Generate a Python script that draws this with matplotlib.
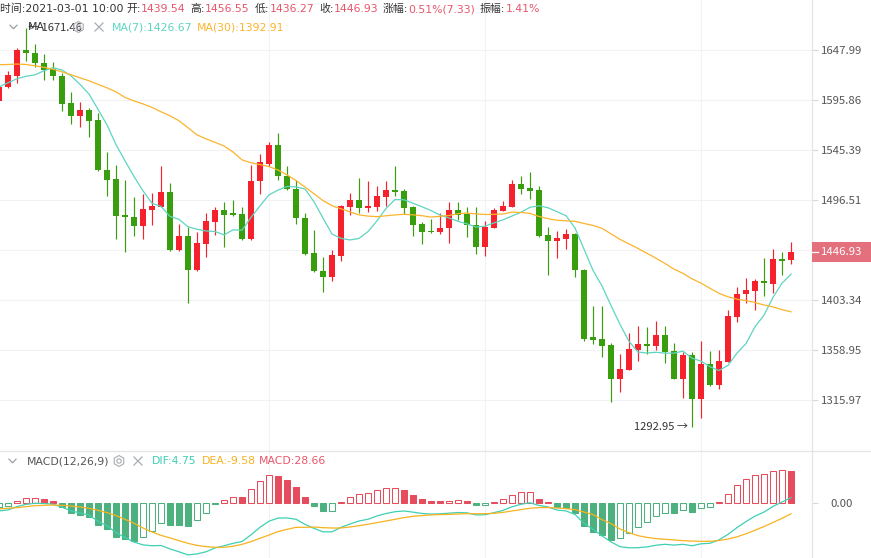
import numpy as np
import pandas as pd
import matplotlib
matplotlib.use("Agg")
import matplotlib.pyplot as plt
from matplotlib.lines import Line2D
from matplotlib.patches import Rectangle, Polygon
from matplotlib.ticker import NullLocator

plt.rcParams['font.family'] = ['Noto Sans CJK SC', 'DejaVu Sans']

# hourly candles, oldest first (last one = 2021-03-01 10:00)
opens = [1594.9, 1608.9, 1620.9, 1648.0, 1644.9, 1634.4, 1628.2, 1620.9, 1592.8, 1580.0,
         1585.8, 1575.7, 1525.8, 1517.0, 1482.3, 1480.1, 1471.9, 1487.0, 1490.2, 1504.3,
         1449.2, 1462.4, 1430.2, 1454.9, 1475.7, 1487.0, 1484.5, 1483.3, 1459.9, 1514.4,
         1531.7, 1550.4, 1520.0, 1507.0, 1479.2, 1446.2, 1429.9, 1423.8, 1444.0, 1490.2,
         1496.5, 1489.2, 1490.2, 1499.7, 1506.3, 1505.3, 1489.6, 1473.8, 1467.2, 1465.6,
         1469.4, 1487.0, 1483.3, 1472.9, 1452.3, 1470.0, 1486.4, 1490.2, 1512.2, 1508.2,
         1506.3, 1463.4, 1458.0, 1459.6, 1464.3, 1430.9, 1369.9, 1368.7, 1363.4, 1334.0,
         1341.8, 1359.0, 1364.3, 1362.8, 1372.3, 1358.1, 1334.0, 1354.6, 1316.8, 1346.9,
         1328.3, 1348.9, 1388.5, 1408.6, 1411.9, 1420.8, 1418.0, 1441.0, 1439.54]
highs = [1611.5, 1626.1, 1650.1, 1671.46, 1654.4, 1643.8, 1635.5, 1624.0, 1604.2, 1594.3,
         1587.8, 1583.0, 1543.7, 1530.7, 1516.1, 1499.1, 1502.4, 1503.1, 1529.7, 1513.4,
         1473.8, 1471.2, 1466.2, 1484.5, 1489.6, 1494.1, 1496.5, 1489.6, 1530.7, 1541.5,
         1553.2, 1562.2, 1529.7, 1516.1, 1484.5, 1467.5, 1443.1, 1449.2, 1491.8, 1503.6,
         1517.7, 1515.1, 1510.2, 1514.4, 1529.1, 1507.0, 1490.8, 1475.0, 1478.2, 1484.5,
         1494.9, 1494.1, 1490.2, 1490.2, 1476.6, 1489.2, 1495.8, 1515.4, 1520.0, 1523.2,
         1510.2, 1470.3, 1467.2, 1469.1, 1465.0, 1431.5, 1398.0, 1398.0, 1365.4, 1355.3,
         1373.8, 1380.3, 1379.6, 1384.1, 1380.3, 1365.4, 1357.0, 1357.0, 1366.9, 1358.1,
         1359.0, 1394.5, 1415.0, 1423.2, 1422.3, 1442.1, 1450.1, 1447.6, 1456.55]
lows = [1592.8, 1608.4, 1613.6, 1636.5, 1630.3, 1616.7, 1616.7, 1584.8, 1571.6, 1568.1,
        1558.5, 1524.9, 1500.4, 1459.3, 1447.6, 1461.8, 1459.3, 1472.9, 1489.9, 1448.5,
        1448.0, 1400.9, 1429.9, 1443.0, 1463.4, 1452.3, 1480.7, 1458.7, 1458.7, 1502.1,
        1529.7, 1516.1, 1506.3, 1473.8, 1444.6, 1428.4, 1410.9, 1420.8, 1439.1, 1482.3,
        1484.5, 1485.4, 1486.4, 1490.8, 1500.4, 1483.3, 1461.8, 1454.9, 1465.0, 1464.3,
        1455.5, 1476.9, 1461.2, 1445.3, 1444.0, 1469.4, 1486.0, 1489.6, 1502.1, 1497.5,
        1461.2, 1425.6, 1442.1, 1450.1, 1423.8, 1367.2, 1364.0, 1353.2, 1314.6, 1323.1,
        1341.5, 1349.5, 1355.5, 1359.0, 1348.0, 1333.5, 1317.4, 1292.95, 1300.8, 1327.8,
        1325.2, 1348.5, 1383.2, 1400.4, 1394.5, 1407.0, 1410.0, 1426.3, 1436.27]
closes = [1609.4, 1621.9, 1648.0, 1644.9, 1634.4, 1626.6, 1620.4, 1591.8, 1579.7, 1585.8,
          1574.7, 1525.2, 1516.1, 1481.4, 1479.8, 1471.9, 1488.0, 1490.8, 1504.3, 1449.2,
          1462.4, 1430.2, 1455.5, 1476.6, 1487.0, 1482.3, 1482.3, 1459.9, 1515.1, 1533.0,
          1550.4, 1519.3, 1507.0, 1479.2, 1445.5, 1429.3, 1423.8, 1444.6, 1490.8, 1496.5,
          1489.2, 1490.8, 1500.4, 1506.3, 1504.6, 1489.2, 1473.1, 1465.6, 1465.6, 1470.0,
          1487.0, 1482.3, 1472.2, 1452.3, 1471.2, 1487.0, 1490.8, 1512.2, 1507.3, 1505.6,
          1462.4, 1458.0, 1460.6, 1464.3, 1430.2, 1368.7, 1367.8, 1362.8, 1334.0, 1342.6,
          1359.8, 1364.3, 1362.8, 1372.3, 1357.5, 1334.0, 1354.6, 1316.8, 1346.9, 1328.3,
          1349.5, 1389.1, 1408.6, 1412.5, 1420.8, 1418.7, 1441.0, 1439.1, 1446.93]

# moving averages for the first candles (their history is off screen)
ma7_head = [1609.4, 1613.6, 1617.8, 1620.4, 1621.9, 1626.1]
ma30_head = [1632.4, 1632.7, 1633.2, 1632.7, 1631.3, 1629.7, 1627.7, 1625.0, 1621.9, 1618.8,
             1615.7, 1612.0, 1608.4, 1604.2, 1598.5, 1594.9, 1591.8, 1588.3, 1583.8, 1579.7,
             1574.7, 1567.6, 1560.5, 1556.5, 1553.0, 1549.4, 1543.4, 1535.6, 1532.7]

# MACD(12,26,9): histogram and DEA, DIF = DEA + MACD/2
macd_hist = [-3.5, -3.0, 1.8, 4.1, 4.3, 3.3, 1.5, -3.3, -8.6, -10.6,
             -12.1, -19.5, -23.4, -29.9, -32.2, -33.4, -29.9, -24.5, -18.0, -19.5,
             -19.8, -20.5, -15.1, -9.2, -1.2, 2.7, 5.2, 5.0, 12.1, 19.5,
             24.5, 24.0, 20.2, 14.3, 5.3, -2.4, -7.4, -6.8, 1.2, 5.3,
             8.3, 8.9, 11.8, 13.3, 13.5, 11.8, 7.4, 3.8, 1.5, 1.4,
             2.1, 2.7, 1.5, -2.2, -1.9, 1.2, 3.5, 7.4, 9.5, 9.8,
             3.8, 1.2, -3.7, -4.1, -8.6, -20.1, -26.0, -28.7, -32.5, -31.3,
             -26.9, -21.3, -16.9, -11.8, -8.9, -9.1, -6.5, -8.3, -4.4, -3.5,
             1.2, 8.3, 16.3, 21.6, 25.1, 25.7, 28.5, 28.9, 28.66]
dea = [-5.3, -4.7, -4.1, -3.3, -2.4, -2.1, -1.8, -2.1, -2.7, -3.5,
       -4.7, -6.5, -8.6, -11.2, -14.5, -18.0, -22.2, -25.7, -28.7, -31.0,
       -33.4, -35.8, -37.6, -38.7, -39.3, -39.3, -38.4, -36.7, -34.3, -31.3,
       -28.4, -25.4, -23.4, -21.6, -21.6, -21.3, -21.9, -22.2, -22.2, -21.3,
       -20.1, -18.9, -17.4, -16.0, -14.5, -13.0, -11.8, -11.2, -10.6, -10.3,
       -10.1, -9.8, -9.5, -9.5, -9.5, -9.2, -8.3, -7.1, -5.9, -4.7,
       -4.1, -4.1, -4.4, -5.0, -5.9, -8.0, -10.3, -14.8, -18.3, -23.1,
       -26.3, -29.0, -30.5, -31.6, -32.2, -32.8, -33.4, -33.8, -34.0, -34.0,
       -33.3, -32.0, -30.0, -27.3, -24.2, -20.9, -17.3, -13.6, -9.58]

price_ticks = [1315.97, 1358.95, 1403.34, 1449.20, 1496.51, 1545.39, 1595.86, 1647.99]
time_grid = [30, 54, 78]

RED, GREEN = "#f5222d", "#389e0d"
MA7_C, MA30_C = "#5dd5c2", "#fbb42c"
DIF_C, DEA_C = "#3fd0b3", "#f7b21f"
BAR_R, BAR_G = "#e54d5e", "#4cb17f"
VAL_C, TXT_C = "#e8566a", "#333333"
GRID_C, AXIS_C = "#f0f2f5", "#e3e5e9"
LEG_FONT = dict(family=['DejaVu Sans', 'Noto Sans CJK SC'], size=7.8)

o, h, l, c = map(np.array, (opens, highs, lows, closes))
n = len(c)
idx = np.arange(n)
ma7 = pd.Series(c).rolling(7).mean().values
ma7[:len(ma7_head)] = ma7_head
ma30 = pd.Series(c).rolling(30).mean().values
ma30[:len(ma30_head)] = ma30_head
hist = np.array(macd_hist)
dea_v = np.array(dea)
dif_v = dea_v + hist / 2

W, H = 871, 558
fig = plt.figure(figsize=(W / 100, H / 100), dpi=100)
ax = fig.add_axes([0, 1 - 451 / H, 812 / W, 451 / H])
axm = fig.add_axes([0, 0, 812 / W, 107 / H], sharex=ax)
renderer = fig.canvas.get_renderer()


def fx(x):
    return x / W


def fy(y):
    return 1 - y / H


# ---- price panel
up = c >= o
col = np.where(up, RED, GREEN)
ax.vlines(idx, l, h, colors=col, lw=0.85, zorder=2)
body = np.maximum(np.abs(c - o), 1.0)
ax.bar(idx, body, bottom=np.minimum(o, c), width=0.74, color=col, lw=0, zorder=3)
ax.plot(idx, ma7, color=MA7_C, lw=0.9, zorder=4)
ax.plot(idx, ma30, color=MA30_C, lw=0.9, zorder=4)

ax.set_yscale("log")
ax.set_ylim(1273.5, 1701.8)
ax.set_xlim(1 / 9, 813 / 9)
ax.set_yticks(price_ticks, labels=["%.2f" % p for p in price_ticks])
ax.yaxis.set_minor_locator(NullLocator())
ax.set_xticks(time_grid)
ax.grid(True, color=GRID_C, lw=0.8, zorder=0)
ax.tick_params(axis="x", bottom=False, labelbottom=False)
ax.tick_params(axis="y", left=False, labelleft=False, right=True, labelright=True,
               length=4.3, width=0.8, color="#d5d8dd", labelsize=8.2,
               labelcolor="#555555", pad=17.3)
for lab in ax.get_yticklabels():
    lab.set_horizontalalignment("center")
for s in ax.spines.values():
    s.set_visible(False)

imin = int(np.argmin(l))
imax = int(np.argmax(h))
ax.annotate("1292.95 →", xy=(imin, l[imin]), xytext=(-4, 0), textcoords="offset pixels",
            ha="right", va="center", fontsize=8, color=TXT_C)
ax.annotate("← 1671.46", xy=(imax, h[imax]), xytext=(2, 0), textcoords="offset pixels",
            ha="left", va="center", fontsize=8, color=TXT_C)

# ---- MACD panel
rising = np.r_[True, hist[1:] > hist[:-1]]
bcol = np.where(hist >= 0, BAR_R, BAR_G)
face = np.where(rising, "white", bcol)
axm.bar(idx, hist, width=0.7, color=face, edgecolor=bcol, lw=0.75, zorder=2)
axm.plot(idx, dif_v, color=DIF_C, lw=0.9, zorder=3)
axm.plot(idx, dea_v, color=DEA_C, lw=0.9, zorder=3)
axm.set_ylim(-48.8, 46.1)
axm.set_yticks([0], labels=["0.00"])
axm.set_xticks(time_grid)
axm.grid(True, axis="x", color=GRID_C, lw=0.8, zorder=0)
axm.tick_params(axis="x", bottom=False, labelbottom=False)
axm.tick_params(axis="y", left=False, labelleft=False, right=True, labelright=True,
                length=4.3, width=0.8, color="#d5d8dd", labelsize=8.2,
                labelcolor="#555555", pad=17.3)
for lab in axm.get_yticklabels():
    lab.set_horizontalalignment("center")
for s in axm.spines.values():
    s.set_visible(False)

# frame lines
fig.add_artist(Line2D([fx(812), fx(812)], [0, 1], color=AXIS_C, lw=0.9))
fig.add_artist(Line2D([0, 1], [fy(451), fy(451)], color=AXIS_C, lw=0.9))

# last price tag
tag_y = ax.transData.transform((0, c[-1]))[1] / H
fig.add_artist(Rectangle((fx(812), tag_y - 10 / H), 59 / W, 20 / H, color="#e46f7d", lw=0,
                         transform=fig.transFigure, zorder=5))
fig.add_artist(Line2D([fx(812), fx(818)], [tag_y, tag_y], color="white", lw=0.9, zorder=6))
fig.text(fx(842), tag_y, "%.2f" % c[-1], ha="center", va="center", fontsize=8.2,
         color="white", zorder=7)


# ---- header and legends
def chevron(x, y):
    xs = [x - 3.5, x, x + 3.5]
    ys = [y - 1.8, y + 1.8, y - 1.8]
    fig.add_artist(Line2D([fx(v) for v in xs], [fy(v) for v in ys], color="#9aa0a6", lw=0.9))


def gear(x, y):
    a = np.deg2rad(np.arange(6) * 60 + 90)
    hexa = [(fx(x + 5.5 * np.cos(t)), fy(y - 5.5 * np.sin(t))) for t in a]
    fig.add_artist(Polygon(hexa, closed=True, fill=False, ec="#a9adb3", lw=0.8))
    t = np.linspace(0, 2 * np.pi, 24)
    ring = [(fx(x + 2.2 * np.cos(v)), fy(y + 2.2 * np.sin(v))) for v in t]
    fig.add_artist(Polygon(ring, closed=True, fill=False, ec="#a9adb3", lw=0.8))


def cross(x, y):
    for d in (1, -1):
        fig.add_artist(Line2D([fx(x - 4), fx(x + 4)], [fy(y - 4 * d), fy(y + 4 * d)],
                              color="#a9adb3", lw=0.9))


def flow(parts, x, y):
    # label and value side by side, starting at pixel x
    for txt, colr in parts:
        t = fig.text(fx(x), fy(y), txt, ha="left", va="center", color=colr, **LEG_FONT)
        x += t.get_window_extent(renderer).width


header = [(0, [("时间:2021-03-01 10:00", TXT_C)]),
          (126, [("开:", TXT_C), ("1439.54", VAL_C)]),
          (190, [("高:", TXT_C), ("1456.55", VAL_C)]),
          (255, [("低:", TXT_C), ("1436.27", VAL_C)]),
          (319, [("收:", TXT_C), ("1446.93", VAL_C)]),
          (383, [("涨幅:", TXT_C), ("0.51%(7.33)", VAL_C)]),
          (480, [("振幅:", TXT_C), ("1.41%", VAL_C)])]
for x0, parts in header:
    flow(parts, x0, 9)

chevron(13.5, 27)
flow([("MA", TXT_C)], 28, 27)
gear(78.5, 27)
cross(99, 27)
flow([("MA(7):%.2f" % 1426.67, MA7_C)], 112, 27)
flow([("MA(30):%.2f" % 1392.91, MA30_C)], 197, 27)

chevron(12.5, 461)
flow([("MACD(12,26,9)", "#555555")], 27, 461)
gear(119, 461)
cross(138, 461)
flow([("DIF:%.2f" % dif_v[-1], DIF_C)], 152, 461)
flow([("DEA:%.2f" % dea_v[-1], DEA_C)], 202, 461)
flow([("MACD:%.2f" % hist[-1], VAL_C)], 259, 461)

fig.savefig("out.png", dpi=100, facecolor="white")
